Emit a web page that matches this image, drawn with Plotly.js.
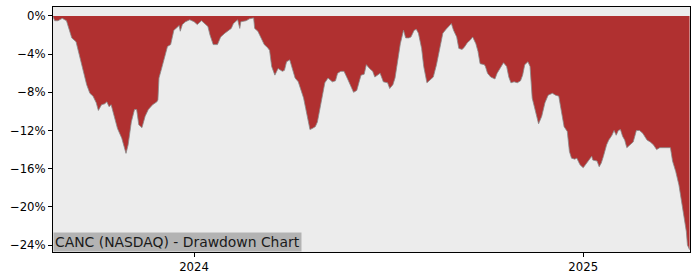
<!DOCTYPE html>
<html>
<head>
<meta charset="utf-8">
<script src="https://cdn.plot.ly/plotly-3.0.1.min.js"></script>
<style>html,body{margin:0;padding:0;background:#fff;}#chart{width:700px;height:280px;}</style>
</head>
<body>
<div id="chart"></div>
<script>
const chartTitle = "CANC (NASDAQ) - Drawdown Chart";
const dates = [
"2023-08-21","2023-08-23","2023-08-26","2023-08-30","2023-09-03","2023-09-06","2023-09-08","2023-09-12","2023-09-15","2023-09-18",
"2023-09-22","2023-09-25","2023-09-28","2023-10-01","2023-10-03","2023-10-06","2023-10-09","2023-10-11","2023-10-13","2023-10-15",
"2023-10-18","2023-10-21","2023-10-25","2023-10-28","2023-10-29","2023-10-31","2023-11-03","2023-11-06","2023-11-08","2023-11-10",
"2023-11-13","2023-11-16","2023-11-19","2023-11-23","2023-11-27","2023-11-28","2023-11-29","2023-12-01","2023-12-04","2023-12-07",
"2023-12-10","2023-12-13","2023-12-15","2023-12-18","2023-12-19","2023-12-21","2023-12-24","2023-12-28","2024-01-01","2024-01-04",
"2024-01-08","2024-01-11","2024-01-14","2024-01-16","2024-01-19","2024-01-23","2024-01-26","2024-01-30","2024-02-02","2024-02-05",
"2024-02-07","2024-02-11","2024-02-13","2024-02-14","2024-02-19","2024-02-22","2024-02-26","2024-02-27","2024-03-01","2024-03-04",
"2024-03-07","2024-03-10","2024-03-12","2024-03-14","2024-03-17","2024-03-20","2024-03-24","2024-03-26","2024-03-28","2024-03-31",
"2024-04-03","2024-04-05","2024-04-08","2024-04-10","2024-04-13","2024-04-15","2024-04-17","2024-04-19","2024-04-21","2024-04-24",
"2024-04-26","2024-04-28","2024-05-01","2024-05-03","2024-05-06","2024-05-10","2024-05-13","2024-05-15","2024-05-18","2024-05-21",
"2024-05-24","2024-05-26","2024-05-30","2024-06-02","2024-06-04","2024-06-06","2024-06-09","2024-06-11","2024-06-14","2024-06-17",
"2024-06-19","2024-06-21","2024-06-24","2024-06-27","2024-07-01","2024-07-03","2024-07-06","2024-07-08","2024-07-11","2024-07-13",
"2024-07-16","2024-07-18","2024-07-21","2024-07-23","2024-07-26","2024-07-28","2024-07-30","2024-08-02","2024-08-04","2024-08-07",
"2024-08-10","2024-08-13","2024-08-16","2024-08-19","2024-08-22","2024-08-25","2024-08-29","2024-08-30","2024-09-01","2024-09-04",
"2024-09-06","2024-09-09","2024-09-11","2024-09-14","2024-09-17","2024-09-19","2024-09-22","2024-09-24","2024-09-26","2024-09-30",
"2024-10-01","2024-10-03","2024-10-06","2024-10-10","2024-10-12","2024-10-15","2024-10-18","2024-10-21","2024-10-23","2024-10-25",
"2024-10-28","2024-10-31","2024-11-03","2024-11-05","2024-11-07","2024-11-10","2024-11-12","2024-11-14","2024-11-17","2024-11-20",
"2024-11-23","2024-11-26","2024-11-29","2024-12-03","2024-12-06","2024-12-09","2024-12-11","2024-12-14","2024-12-17","2024-12-19",
"2024-12-21","2024-12-24","2024-12-26","2024-12-29","2025-01-01","2025-01-03","2025-01-06","2025-01-09","2025-01-10","2025-01-14",
"2025-01-16","2025-01-18","2025-01-20","2025-01-23","2025-01-25","2025-01-28","2025-01-30","2025-02-01","2025-02-03","2025-02-05",
"2025-02-07","2025-02-09","2025-02-11","2025-02-14","2025-02-17","2025-02-20","2025-02-23","2025-02-26","2025-03-02","2025-03-05",
"2025-03-08","2025-03-11","2025-03-14","2025-03-17","2025-03-20","2025-03-24","2025-03-26","2025-03-29","2025-04-01","2025-04-04",
"2025-04-06","2025-04-08","2025-04-09","2025-04-11"
];
const drawdown = [
0,-0.5,-0.5,-0.25,-0.5,-1.6,-2.3,-2.7,-4.1,-5.3,
-7.2,-8.1,-8.4,-9.1,-9.9,-9.3,-9.2,-9.0,-9.5,-9.3,
-10.5,-11.8,-12.8,-14.2,-14.4,-13.5,-11.1,-9.8,-9.8,-11.4,
-11.7,-10.5,-9.8,-9.3,-9.0,-8.8,-6.5,-5.7,-4.4,-3.2,
-3.0,-1.5,-1.3,-1.0,-1.6,-0.9,-0.6,-0.4,-0.6,-0.9,
-0.5,-0.8,-1.1,-2.0,-3.0,-3.0,-2.2,-1.8,-1.5,-1.3,
-0.8,-0.4,-1.3,-0.6,-0.5,-0.3,-0.2,-1.3,-1.6,-2.3,
-3.0,-3.3,-3.6,-5.3,-6.2,-5.5,-5.8,-5.7,-4.8,-4.6,
-5.7,-6.5,-6.9,-7.6,-8.6,-9.7,-10.7,-11.9,-11.8,-11.6,
-11.1,-10.0,-8.1,-7.0,-6.5,-6.9,-6.8,-6.0,-5.8,-5.8,
-6.5,-7.0,-8.0,-7.8,-6.9,-6.2,-6.1,-5.1,-5.5,-5.8,
-6.4,-6.2,-6.0,-6.9,-7.0,-7.6,-7.2,-6.5,-4.6,-2.9,
-1.5,-2.3,-2.3,-2.2,-1.5,-1.4,-1.8,-3.4,-5.3,-7.0,
-6.7,-6.4,-5.1,-3.6,-1.8,-1.4,-0.9,-0.8,-1.5,-2.2,
-3.4,-3.5,-3.3,-2.8,-2.5,-2.2,-2.9,-3.7,-5.0,-5.1,
-5.3,-6.0,-6.4,-6.6,-6.0,-5.5,-4.9,-5.3,-6.4,-7.0,
-6.9,-7.0,-6.8,-6.2,-5.1,-4.8,-5.3,-8.6,-10.0,-11.3,
-10.5,-9.1,-8.3,-8.1,-8.3,-8.4,-9.7,-11.6,-12.1,-14.2,
-14.9,-15.0,-14.9,-15.6,-15.9,-15.6,-15.1,-14.7,-15.1,-15.2,
-15.8,-15.4,-14.7,-13.5,-13.0,-12.5,-12.0,-12.5,-12.0,-11.9,
-12.6,-13.0,-13.8,-13.5,-13.2,-12.0,-12.0,-12.3,-13.0,-13.2,
-13.5,-14.0,-13.8,-13.8,-13.8,-13.8,-15.2,-16.3,-17.7,-19.8,
-21.5,-22.6,-24.0,-24.5
];
const yTickVals = [0,-4,-8,-12,-16,-20,-24];
const yTickText = ["0%","\u22124%","\u22128%","\u221212%","\u221216%","\u221220%","\u221224%"];
const xTickVals = ["2024-01-01","2025-01-01"];
const xTickText = ["2024","2025"];

const trace = {
  x: dates, y: drawdown, type: 'scatter', mode: 'lines',
  fill: 'tozeroy', fillcolor: '#b03030',
  line: {color: '#8a8a8a', width: 0.8},
  hoverinfo: 'skip'
};
const axisFont = {family: 'DejaVu Sans', size: 11.7, color: '#000'};
const layout = {
  width: 700, height: 280,
  margin: {l: 53, r: 10, t: 7, b: 28, pad: 0},
  paper_bgcolor: '#ffffff', plot_bgcolor: '#ececec',
  showlegend: false,
  xaxis: {
    type: 'date', range: ['2023-08-21 08:00', '2025-04-11 10:00'],
    tickvals: xTickVals, ticktext: xTickText,
    ticks: 'outside', ticklen: 4, tickcolor: '#000', tickwidth: 1,
    showgrid: false, zeroline: false,
    showline: true, linecolor: '#000', linewidth: 1, mirror: true,
    tickfont: axisFont
  },
  yaxis: {
    range: [-24.73, 0.94],
    tickmode: 'array', tickvals: yTickVals, ticktext: yTickText,
    ticks: 'outside', ticklen: 4, tickcolor: '#000', tickwidth: 1,
    showgrid: false, zeroline: false,
    showline: true, linecolor: '#000', linewidth: 1, mirror: true,
    tickfont: axisFont
  },
  annotations: [{
    text: chartTitle, xref: 'paper', yref: 'paper', x: 0, y: 0,
    xanchor: 'left', yanchor: 'bottom', showarrow: false,
    bgcolor: '#b3b3b3', borderpad: 1,
    font: {family: 'DejaVu Sans', size: 13.9, color: '#1a1a1a'}
  }]
};
Plotly.newPlot('chart', [trace], layout, {displayModeBar: false, staticPlot: true});
</script>
</body>
</html>
